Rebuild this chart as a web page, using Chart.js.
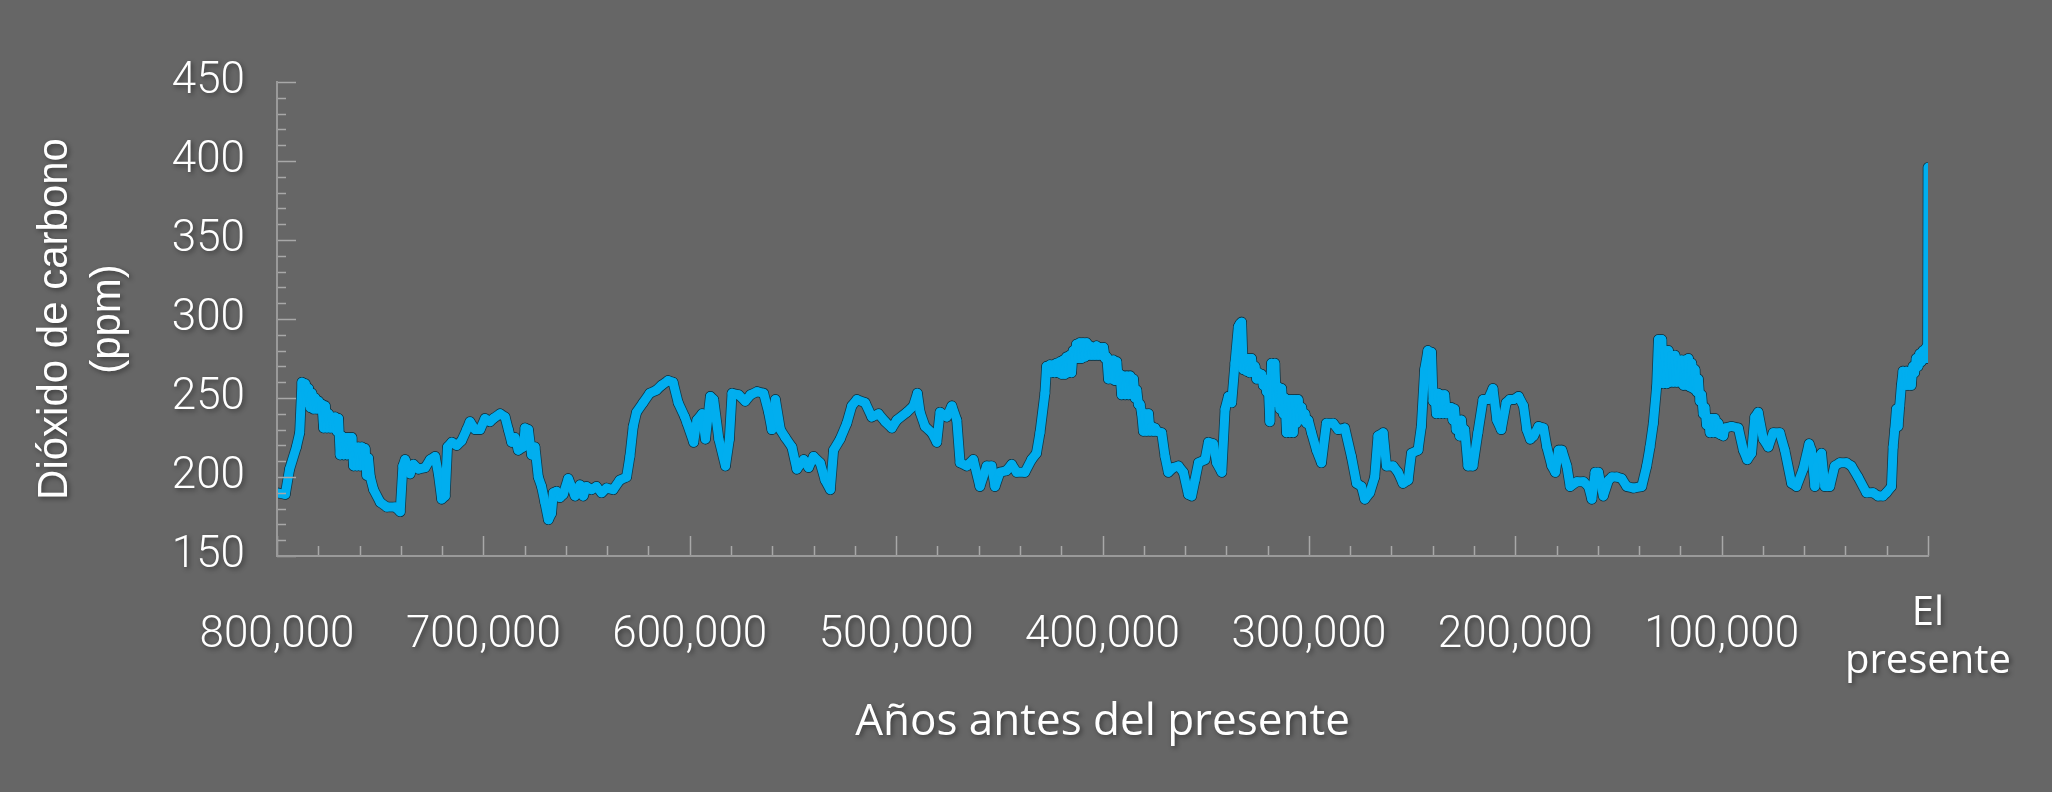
<!DOCTYPE html>
<html>
<head>
<meta charset="utf-8">
<script src="https://cdn.jsdelivr.net/npm/chart.js@4.4.1/dist/chart.umd.min.js"></script>
<style>
  html, body { margin: 0; padding: 0; background: #666666; }
  #c { display: block; }
</style>
</head>
<body>
<canvas id="c" width="2052" height="792" style="width:2052px;height:792px"></canvas>
<script>
// Age in thousands of years before present
const agesKyr = [
800.0,796.0,793.9,790.6,789.0,787.9,787.1,786.3,785.5,784.7,
783.9,783.1,782.3,781.5,780.6,779.8,779.0,778.2,777.4,776.6,
775.8,775.0,774.2,773.4,772.6,771.8,771.0,770.2,769.4,768.6,
767.7,766.9,766.1,765.3,764.5,763.7,762.9,762.1,761.3,760.5,
759.7,758.9,758.1,757.3,756.5,755.7,754.8,
753.2,750.0,746.8,742.7,740.3,739.0,737.9,735.5,733.9,731.5,
728.2,725.8,723.4,721.8,720.2,718.5,717.4,715.3,712.9,710.5,
708.1,706.5,704.0,701.6,699.2,696.8,695.2,691.9,689.5,687.9,
686.3,684.7,683.1,680.6,679.8,678.2,676.6,675.0,673.4,671.8,
670.2,668.5,667.0,666.1,664.5,662.9,661.3,658.9,657.3,655.6,
653.2,651.6,650.0,647.6,645.2,642.7,640.3,637.1,633.9,630.6,
629.0,627.4,625.8,622.6,619.4,616.1,613.7,610.5,608.1,605.6,
602.4,
601.3,598.1,596.5,594.0,592.4,590.0,588.4,585.9,582.7,580.8,
579.5,576.3,573.1,570.6,567.4,564.2,561.8,560.2,558.5,556.1,
553.7,550.5,548.1,544.8,542.4,540.0,536.8,534.4,531.9,530.3,
527.1,523.9,521.5,519.0,515.0,511.8,508.5,505.3,502.1,499.7,
494.8,491.6,489.7,488.4,486.0,482.7,480.3,478.7,475.5,473.0,
470.6,469.0,465.8,462.6,459.4,456.1,453.7,452.1,449.7,446.5,
444.0,441.6,437.6,434.4,432.0,
430.3,427.9,427.1,426.3,425.5,424.7,423.9,423.1,422.3,421.4,
420.6,419.8,419.0,418.2,417.4,416.6,415.8,415.0,414.2,413.4,
412.6,411.8,411.0,410.2,409.4,408.5,407.7,406.9,406.1,405.3,
404.5,403.7,402.9,402.1,401.3,400.5,399.5,398.7,397.9,397.1,
396.3,395.5,394.7,393.9,393.1,392.3,391.5,390.7,389.8,389.0,
388.2,387.4,386.6,385.8,385.0,384.2,383.4,382.6,381.8,381.0,
380.2,379.4,378.6,377.7,377.0,376.1,375.3,374.5,373.7,
371.3,369.7,368.1,365.6,363.2,360.8,358.4,356.8,355.2,353.5,
350.3,348.7,346.3,344.7,342.2,340.6,339.0,337.4,335.8,
334.2,333.4,332.6,331.8,331.0,330.2,329.4,328.6,327.8,326.9,
326.1,325.3,324.5,323.7,322.9,322.1,321.3,320.5,319.7,318.9,
318.1,317.3,316.5,315.7,314.8,314.0,313.2,312.4,311.6,310.8,
310.0,309.2,308.4,307.6,306.8,306.0,305.2,304.4,303.5,302.7,
301.9,301.1,300.3,298.7,
296.3,293.9,291.5,288.2,285.8,282.6,279.4,276.9,274.5,272.9,
270.5,268.1,266.5,264.0,262.4,259.2,256.8,254.4,251.9,250.3,
247.1,245.5,
243.9,242.3,241.5,240.6,239.8,239.0,238.2,237.4,236.6,235.8,
235.0,234.2,233.4,232.6,231.8,231.0,230.2,229.4,228.6,227.8,
226.9,226.1,225.3,224.5,
222.9,220.5,218.1,215.6,213.2,210.8,208.9,206.8,204.4,202.7,
200.8,198.4,196.0,194.4,192.7,191.1,188.7,186.3,184.7,182.3,
180.6,179.0,177.4,175.0,173.4,170.2,166.9,164.5,162.9,161.3,
159.7,157.3,154.8,153.2,150.8,148.4,146.0,142.7,138.7,136.3,
134.7,133.1,
131.5,130.6,129.8,129.0,128.2,127.4,126.6,125.8,125.0,124.2,
123.4,122.6,121.8,121.0,120.2,119.4,118.5,117.7,116.9,116.1,
115.3,114.5,113.7,112.9,112.1,111.3,110.5,109.7,108.9,108.1,
107.3,106.5,105.6,104.8,104.0,103.2,102.4,101.6,100.8,100.0,
99.2,98.4,
95.2,91.9,89.5,87.6,85.5,83.9,82.3,79.8,77.4,75.0,
71.8,69.4,66.1,63.7,60.5,57.6,56.5,54.8,53.2,51.6,
50.0,47.6,45.2,42.7,39.5,37.1,33.9,29.8,26.6,24.2,
21.8,20.2,
17.7,16.9,16.1,15.3,14.5,13.7,12.9,12.1,11.3,10.5,
9.7,8.9,8.1,7.3,6.5,5.7,4.8,4.0,3.2,2.4,
1.6,0.8,0.2,0.0
];

// CO2 concentration, ppm
const co2Ppm = [
190,189,205,219,228,260,247,259,247,256,
244,253,243,250,243,248,243,246,231,245,
231,240,231,238,231,238,229,237,214,226,
214,225,214,225,214,225,207,219,207,219,
207,219,207,218,201,212,200,
192,184,181,181,178,207,211,202,208,205,
206,211,213,202,186,188,219,222,220,223,
230,235,230,230,237,235,237,240,238,230,
222,225,217,219,231,230,214,219,200,194,
184,173,177,190,191,187,189,199,194,188,
195,188,194,192,194,190,193,192,198,200,
213,232,241,247,253,255,258,261,260,247,
238,
234,222,236,240,224,251,249,224,207,224,
253,252,248,252,254,253,241,230,249,230,
225,219,205,211,206,213,209,198,192,217,
224,234,245,249,247,238,240,235,231,236,
241,245,253,241,232,228,222,241,238,245,
236,209,207,211,194,207,207,194,203,204,
208,203,203,211,215,
228,253,270,266,271,266,271,266,272,266,
273,265,274,265,276,266,277,266,280,275,
284,275,285,275,285,276,285,277,283,277,
282,277,283,277,282,277,282,275,276,262,
274,262,274,261,273,261,265,252,264,252,
264,252,264,254,262,250,255,246,246,240,
229,240,229,240,229,232,229,231,229,
228,213,203,206,207,203,189,188,198,209,
211,222,221,209,203,243,251,247,272,
295,297,298,268,275,267,275,266,275,266,
270,262,266,262,265,258,262,254,259,235,
272,247,272,247,257,243,256,240,250,228,
249,228,249,228,249,234,249,237,244,236,
240,234,236,228,
217,209,234,234,230,231,213,196,194,186,
190,200,226,228,207,207,203,196,198,215,
217,232,
268,280,262,279,248,253,240,253,240,252,
240,252,240,244,240,244,236,243,230,236,
226,236,226,230,
207,207,228,249,249,256,236,230,247,249,
249,251,245,230,224,226,232,231,219,207,
203,217,217,207,194,197,197,194,186,203,
203,188,198,200,200,199,194,193,194,207,
219,234,
257,287,260,287,259,280,259,280,260,277,
260,277,260,274,260,274,258,274,258,275,
257,272,256,268,254,262,248,252,240,244,
233,237,228,237,228,237,228,234,227,231,
226,231,
232,231,217,211,215,238,241,224,219,228,
228,217,196,194,205,221,217,194,212,215,
194,194,207,209,209,207,200,190,190,188,
188,190,
194,219,230,243,232,245,258,267,258,267,
258,267,258,270,266,275,270,278,273,280,
275,282,275,396
];

const yTickValues = [150, 200, 250, 300, 350, 400, 450];
const xTickValues = [800000, 700000, 600000, 500000, 400000, 300000, 200000, 100000, 0];
const xTickLabels = ['800,000', '700,000', '600,000', '500,000', '400,000', '300,000', '200,000', '100,000', ['El', 'presente']];
const yTitle = ['Dióxido de carbono', '(ppm)'];
const xTitle = 'Años antes del presente';

const points = agesKyr.map((a, i) => ({ x: a * 1000, y: co2Ppm[i] }));

const textShadow = {
  id: 'textShadow',
  beforeDraw(chart) {
    const c = chart.ctx;
    c.save();
    c.shadowColor = 'rgba(0,0,0,0.45)';
    c.shadowBlur = 5;
    c.shadowOffsetX = 2;
    c.shadowOffsetY = 2;
  },
  beforeDatasetsDraw(chart) {
    chart.ctx.restore();
  }
};

const tickMarks = {
  id: 'tickMarks',
  afterDatasetsDraw(chart) {
    const { ctx, chartArea } = chart;
    const xs = chart.scales.x, ys = chart.scales.y;
    ctx.save();
    ctx.strokeStyle = '#a8a8a8';
    ctx.lineWidth = 1.5;
    ctx.beginPath();
    for (let v = ys.min; v <= ys.max; v += 10) {
      const py = Math.round(ys.getPixelForValue(v)) + 0.5;
      const len = v % 50 === 0 ? 19 : 9;
      ctx.moveTo(chartArea.left, py);
      ctx.lineTo(chartArea.left + len, py);
    }
    for (let t = xs.min; t <= xs.max; t += 20000) {
      const px = Math.round(xs.getPixelForValue(t)) + 0.5;
      const len = t % 100000 === 0 ? 20 : 10;
      ctx.moveTo(px, chartArea.bottom);
      ctx.lineTo(px, chartArea.bottom - len);
    }
    ctx.stroke();
    ctx.restore();
  }
};

// Each segment is stroked on its own (alternating, visually identical colours)
// so that very sharp reversals in the record render as a solid ribbon.
const lineStyle = (colorA, colorB, width) => ({
  data: points,
  borderColor: colorA,
  borderWidth: width,
  pointRadius: 0,
  tension: 0,
  borderJoinStyle: 'round',
  borderCapStyle: 'round',
  segment: { borderColor: ctx => (ctx.p0DataIndex % 2 ? colorA : colorB) }
});

new Chart(document.getElementById('c'), {
  type: 'line',
  data: {
    datasets: [
      lineStyle('#00aeef', '#01aeef', 9),
      lineStyle('#123a4a', '#123a4b', 10.6)
    ]
  },
  options: {
    responsive: false,
    devicePixelRatio: 1,
    animation: false,
    parsing: false,
    layout: { padding: { top: 82, right: 124, left: 0, bottom: 0 } },
    plugins: { legend: { display: false }, tooltip: { enabled: false } },
    scales: {
      x: {
        type: 'linear',
        reverse: true,
        min: 0,
        max: 800000,
        afterFit(scale) {
          scale.height = 236;
          scale.paddingLeft = 0;
          scale.paddingRight = 0;
        },
        afterBuildTicks(scale) { scale.ticks = xTickValues.map(v => ({ value: v })); },
        grid: { display: false, drawTicks: false },
        border: { display: true, color: '#9a9a9a', width: 2, z: 1 },
        ticks: {
          autoSkip: false,
          maxRotation: 0,
          minRotation: 0,
          crossAlign: 'center',
          padding: 58,
          color: '#ffffff',
          callback(v) { const i = xTickValues.indexOf(v); return i >= 0 ? xTickLabels[i] : ''; },
          font(ctx) {
            if (ctx.tick && ctx.tick.value === 0) {
              return { family: '"Open Sans", sans-serif', size: 40, lineHeight: 1.2 };
            }
            return { family: 'Roboto, sans-serif', size: 44, weight: '300', lineHeight: 1.2 };
          }
        },
        title: {
          display: true,
          text: xTitle,
          color: '#ffffff',
          font: { family: '"Open Sans", sans-serif', size: 44, lineHeight: 1.2 },
          padding: { top: 0, bottom: 43 }
        }
      },
      y: {
        type: 'linear',
        min: 150,
        max: 450,
        afterFit(scale) { scale.width = 277; },
        afterBuildTicks(scale) { scale.ticks = yTickValues.map(v => ({ value: v })); },
        grid: { display: false, drawTicks: false },
        border: { display: true, color: '#9a9a9a', width: 2, z: 1 },
        ticks: {
          padding: 32,
          color: '#ffffff',
          font: { family: 'Roboto, sans-serif', size: 44, weight: '300' }
        },
        title: {
          display: true,
          text: yTitle,
          color: '#ffffff',
          font: { family: '"Liberation Sans", Arial, sans-serif', size: 42, lineHeight: 1.262 },
          padding: { top: 29, bottom: 0 }
        }
      }
    }
  },
  plugins: [textShadow, tickMarks]
});
</script>
</body>
</html>
